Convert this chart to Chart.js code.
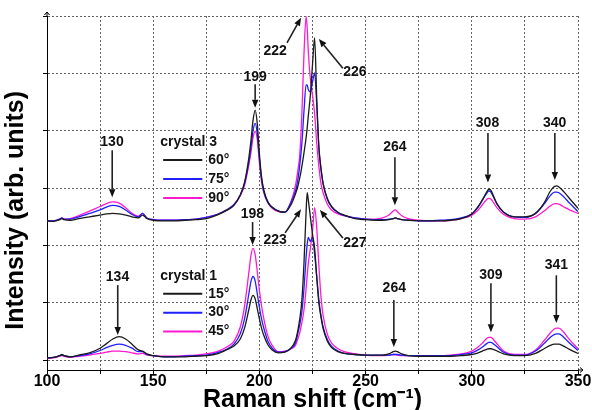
<!DOCTYPE html>
<html lang="en">
<head>
  <meta charset="UTF-8">
  <title>Raman spectra</title>
  <style>
    body { margin: 0; background: #fff; }
    #wrap { width: 592px; height: 410px; }
  </style>
</head>
<body>
<div id="wrap"><canvas id="raman" width="592" height="410"></canvas></div>

<script src="https://cdn.jsdelivr.net/npm/chart.js@4"></script>
<script>
  // Raman shift (cm-1) sample positions shared by all six spectra
  const ramanShift = [100,103,106,107,108,111,115,120,125,128,131,134,137,140,143,145,147,150,155,160,
    165,170,175,180,185,188,191,193,195,196,197,198,199,200,201,202,204,206,209,212,
    215,217,218,219,220,221,222,222.5,223,224,225,226,227,228,229,230,232,234,237,240,
    245,250,255,258,261,263,264,265,267,270,275,280,285,290,295,300,303,305,307,308,
    309,310,312,315,320,325,330,334,337,339,340,341,343,346,350];

  // crystal 3 (upper, offset spectra), intensity in grid units
  const c3at60 = [2.43,2.42,2.45,2.47,2.45,2.44,2.47,2.50,2.53,2.55,2.56,2.55,2.53,2.50,2.48,2.53,2.47,2.44,2.43,2.43,
    2.44,2.45,2.47,2.53,2.62,2.70,2.88,3.10,3.52,3.82,4.18,4.36,4.12,3.60,3.20,2.98,2.76,2.67,2.60,2.58,
    2.72,2.90,3.02,3.18,3.38,3.62,3.88,4.05,4.25,4.62,5.15,5.62,4.55,3.72,3.35,3.08,2.82,2.68,2.58,2.53,
    2.47,2.45,2.44,2.44,2.45,2.47,2.48,2.47,2.45,2.44,2.43,2.43,2.43,2.44,2.47,2.55,2.68,2.80,2.93,2.98,
    2.96,2.88,2.72,2.58,2.50,2.50,2.56,2.74,2.95,3.03,3.04,3.02,2.95,2.82,2.65];
  const c3at75 = [2.43,2.43,2.46,2.48,2.46,2.46,2.50,2.56,2.62,2.67,2.70,2.68,2.62,2.54,2.50,2.56,2.48,2.45,2.44,2.44,
    2.45,2.46,2.49,2.54,2.63,2.71,2.88,3.08,3.45,3.70,4.00,4.13,3.95,3.52,3.16,2.95,2.75,2.66,2.60,2.58,
    2.76,2.95,3.12,3.40,3.78,4.35,4.80,4.80,4.72,4.68,4.85,5.01,4.45,3.70,3.32,3.08,2.80,2.67,2.57,2.52,
    2.48,2.46,2.45,2.45,2.46,2.47,2.48,2.47,2.45,2.44,2.43,2.43,2.44,2.45,2.48,2.55,2.67,2.79,2.91,2.95,
    2.93,2.86,2.71,2.58,2.50,2.49,2.56,2.72,2.87,2.93,2.93,2.92,2.86,2.74,2.59];
  const c3at90 = [2.43,2.43,2.46,2.48,2.46,2.47,2.52,2.60,2.68,2.73,2.76,2.74,2.66,2.56,2.51,2.56,2.48,2.45,2.44,2.44,
    2.45,2.46,2.49,2.54,2.63,2.71,2.87,3.05,3.40,3.62,3.88,3.99,3.85,3.45,3.12,2.93,2.74,2.65,2.59,2.58,
    2.78,3.05,3.28,3.58,4.30,5.35,5.99,5.80,5.40,4.90,4.62,4.30,3.78,3.38,3.08,2.92,2.72,2.62,2.55,2.52,
    2.48,2.46,2.46,2.48,2.53,2.60,2.62,2.59,2.52,2.47,2.44,2.43,2.43,2.44,2.47,2.53,2.62,2.71,2.80,2.82,
    2.81,2.76,2.65,2.54,2.47,2.46,2.50,2.60,2.69,2.73,2.73,2.72,2.68,2.62,2.56];

  // crystal 1 (lower spectra)
  const c1at15 = [0.04,0.05,0.08,0.10,0.08,0.06,0.09,0.13,0.21,0.29,0.37,0.41,0.37,0.28,0.18,0.16,0.11,0.08,0.06,0.06,
    0.06,0.07,0.08,0.11,0.19,0.25,0.37,0.56,0.88,1.05,1.13,1.07,0.90,0.72,0.56,0.44,0.27,0.18,0.13,0.14,
    0.22,0.35,0.50,0.72,1.05,1.70,2.60,2.92,2.80,2.50,2.20,1.95,1.45,1.00,0.75,0.55,0.33,0.22,0.15,0.12,
    0.10,0.09,0.09,0.09,0.11,0.15,0.16,0.15,0.11,0.08,0.07,0.07,0.07,0.07,0.08,0.10,0.13,0.16,0.19,0.20,
    0.20,0.19,0.16,0.11,0.08,0.08,0.12,0.20,0.26,0.28,0.28,0.28,0.25,0.19,0.12];
  const c1at30 = [0.04,0.05,0.08,0.09,0.08,0.06,0.08,0.11,0.17,0.22,0.26,0.28,0.26,0.21,0.15,0.15,0.10,0.08,0.06,0.06,
    0.07,0.08,0.09,0.13,0.20,0.28,0.46,0.72,1.15,1.37,1.46,1.38,1.16,0.92,0.72,0.57,0.33,0.21,0.14,0.15,
    0.21,0.30,0.45,0.62,0.85,1.25,1.80,2.02,2.14,2.07,2.14,1.85,1.45,1.05,0.78,0.58,0.36,0.24,0.16,0.12,
    0.10,0.09,0.09,0.09,0.09,0.10,0.10,0.10,0.09,0.08,0.08,0.08,0.08,0.08,0.10,0.13,0.18,0.23,0.29,0.31,
    0.31,0.29,0.23,0.14,0.09,0.09,0.16,0.29,0.40,0.45,0.46,0.46,0.41,0.30,0.17];
  const c1at45 = [0.03,0.04,0.07,0.08,0.07,0.05,0.07,0.09,0.12,0.14,0.16,0.16,0.15,0.13,0.11,0.12,0.09,0.08,0.07,0.07,
    0.08,0.09,0.11,0.15,0.24,0.33,0.58,0.94,1.52,1.82,1.95,1.84,1.55,1.22,0.95,0.74,0.42,0.26,0.15,0.16,
    0.20,0.26,0.36,0.48,0.66,0.88,1.25,1.48,1.68,1.95,2.25,2.66,2.30,1.65,1.10,0.78,0.45,0.30,0.20,0.15,
    0.11,0.09,0.08,0.08,0.09,0.10,0.10,0.09,0.08,0.08,0.08,0.08,0.08,0.09,0.11,0.16,0.23,0.30,0.38,0.40,
    0.40,0.37,0.28,0.16,0.10,0.10,0.18,0.34,0.48,0.55,0.56,0.56,0.50,0.36,0.20];

  const xLabelTicks = [100, 150, 200, 250, 300, 350];
  const crystal3Peaks = ['130', '199', '222', '226', '264', '308', '340'];
  const crystal1Peaks = ['134', '198', '223', '227', '264', '309', '341'];

  const FONT = '"Liberation Sans", Arial, sans-serif';
  const BLACK = '#1a1a1a', BLUE = '#1f1fff', PINK = '#ff1ad0';

  function toPoints(vals) {
    return ramanShift.map((x, i) => ({ x: x, y: vals[i] }));
  }

  function spectrum(label, vals, color) {
    return {
      label: label,
      data: toPoints(vals),
      borderColor: color,
      borderWidth: 1.3,
      pointRadius: 0,
      cubicInterpolationMode: 'monotone',
      fill: false
    };
  }

  // where each peak label sits and where its arrow goes (data units)
  // [labelX, labelY, arrowFromX, arrowFromY, arrowToX, arrowToY]
  const upperMarks = [
    [130.6, 3.81, 130.7, 3.66, 130.7, 2.84],
    [198.0, 4.94, 198.0, 4.81, 198.0, 4.40],
    [207.4, 5.38, 213.0, 5.53, 219.6, 5.97],
    [245.0, 5.02, 239.3, 5.09, 228.0, 5.60],
    [263.8, 3.71, 263.8, 3.54, 263.8, 2.70],
    [307.4, 4.13, 307.6, 3.96, 307.6, 3.10],
    [339.0, 4.13, 339.1, 3.96, 339.1, 3.14]
  ];
  const lowerMarks = [
    [133.2, 1.45, 133.3, 1.31, 133.3, 0.44],
    [196.7, 2.55, 196.8, 2.41, 196.8, 2.01],
    [207.4, 2.09, 212.1, 2.22, 219.6, 2.63],
    [245.0, 2.04, 239.3, 2.13, 228.5, 2.62],
    [263.5, 1.25, 263.3, 1.05, 263.3, 0.23],
    [309.0, 1.49, 309.0, 1.34, 309.0, 0.49],
    [339.8, 1.66, 339.8, 1.48, 339.8, 0.65]
  ];

  function arrow(ctx, x0, y0, x1, y1) {
    const a = Math.atan2(y1 - y0, x1 - x0);
    const len = 8, w = 3.2;
    const bx = x1 - len * Math.cos(a), by = y1 - len * Math.sin(a);
    ctx.beginPath();
    ctx.moveTo(x0, y0);
    ctx.lineTo(bx, by);
    ctx.stroke();
    ctx.beginPath();
    ctx.moveTo(x1, y1);
    ctx.lineTo(bx + w * Math.sin(a), by - w * Math.cos(a));
    ctx.lineTo(bx - w * Math.sin(a), by + w * Math.cos(a));
    ctx.closePath();
    ctx.fill();
  }

  // labels, arrows, the two little legends and the axis arrow heads
  const overlay = {
    id: 'overlay',
    afterDatasetsDraw(chart) {
      const { ctx, chartArea, scales: { x, y } } = chart;
      const px = v => x.getPixelForValue(v);
      const py = v => y.getPixelForValue(v);
      ctx.save();

      ctx.font = 'bold 14px ' + FONT;
      ctx.textAlign = 'center';
      ctx.textBaseline = 'middle';
      ctx.fillStyle = '#111';
      ctx.strokeStyle = '#222';
      ctx.lineWidth = 1.6;
      const drawMarks = (names, marks) => {
        names.forEach((t, i) => {
          const m = marks[i];
          ctx.fillText(t, px(m[0]), py(m[1]));
          arrow(ctx, px(m[2]), py(m[3]), px(m[4]), py(m[5]));
        });
      };
      drawMarks(crystal3Peaks, upperMarks);
      drawMarks(crystal1Peaks, lowerMarks);

      // legends
      const legend = (title, sets, topY) => {
        ctx.textAlign = 'left';
        ctx.fillStyle = '#111';
        ctx.fillText(title, px(153.3), py(topY));
        sets.forEach((di, k) => {
          const ds = chart.data.datasets[di];
          const yy = py(topY - 0.31 - k * 0.33);
          ctx.strokeStyle = ds.borderColor;
          ctx.lineWidth = 2;
          ctx.beginPath();
          ctx.moveTo(px(154.7), yy);
          ctx.lineTo(px(173.1), yy);
          ctx.stroke();
          ctx.fillStyle = '#111';
          ctx.fillText(ds.label, px(175.9), yy);
        });
      };
      legend('crystal 3', [0, 1, 2], 3.80);
      legend('crystal 1', [3, 4, 5], 1.47);

      // axis arrow heads
      ctx.strokeStyle = '#000';
      ctx.lineWidth = 1;
      const l = chartArea.left, t = chartArea.top, r = chartArea.right, b = chartArea.bottom;
      ctx.beginPath();
      ctx.moveTo(l, t); ctx.lineTo(l, t - 4);
      ctx.moveTo(l - 2.5, t - 1); ctx.lineTo(l, t - 4); ctx.lineTo(l + 2.5, t - 1);
      ctx.moveTo(r, b); ctx.lineTo(r + 5, b);
      ctx.moveTo(r + 2, b - 2.5); ctx.lineTo(r + 5, b); ctx.lineTo(r + 2, b + 2.5);
      ctx.stroke();
      ctx.restore();
    }
  };

  new Chart(document.getElementById('raman'), {
    type: 'line',
    data: {
      datasets: [
        spectrum('60°', c3at60, BLACK),
        spectrum('75°', c3at75, BLUE),
        spectrum('90°', c3at90, PINK),
        spectrum('15°', c1at15, BLACK),
        spectrum('30°', c1at30, BLUE),
        spectrum('45°', c1at45, PINK)
      ]
    },
    options: {
      responsive: false,
      animation: false,
      devicePixelRatio: 1,
      layout: { padding: { top: 16, right: 14, left: 0, bottom: 0 } },
      plugins: { legend: { display: false }, tooltip: { enabled: false } },
      scales: {
        x: {
          type: 'linear',
          min: 100,
          max: 350,
          afterFit: s => { s.height = 40; },
          grid: { color: '#666', lineWidth: 1, tickLength: 4, tickColor: '#000' },
          border: { color: '#000', width: 1, dash: [2, 2] },
          ticks: {
            stepSize: 25,
            padding: 0,
            color: '#000',
            font: { family: FONT, size: 16, weight: 'bold', lineHeight: 1.0 },
            callback: v => xLabelTicks.includes(v) ? String(v) : ''
          },
          title: {
            display: true,
            text: 'Raman shift (cm⁻¹)',
            color: '#000',
            padding: 0,
            font: { family: FONT, size: 25, weight: 'bold', lineHeight: 0.8 }
          }
        },
        y: {
          min: -0.17,
          max: 6,
          afterFit: s => { s.width = 47; },
          grid: { color: '#666', lineWidth: 1, tickLength: 4, tickColor: '#000' },
          border: { color: '#000', width: 1, dash: [2, 2] },
          ticks: { stepSize: 1, display: false, includeBounds: false },
          title: {
            display: true,
            text: 'Intensity (arb. units)     ',
            color: '#000',
            padding: { top: 1, bottom: 0 },
            font: { family: FONT, size: 25, weight: 'bold' }
          }
        }
      }
    },
    plugins: [overlay]
  });
</script>
</body>
</html>
